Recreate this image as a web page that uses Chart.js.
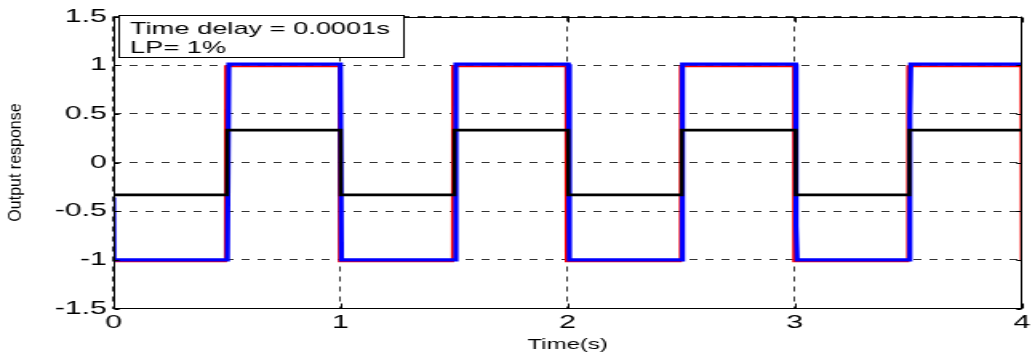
<!DOCTYPE html>
<html>
<head>
<meta charset="utf-8">
<title>Output response</title>
<script src="https://cdn.jsdelivr.net/npm/chart.js@4.4.0/dist/chart.umd.min.js"></script>
<style>
  html, body { margin: 0; padding: 0; background: #fff; overflow: hidden; }
</style>
</head>
<body>
<!-- the figure is drawn on a narrower canvas and widened by CSS, like an exported figure resized to 1035 px -->
<canvas id="plot" width="647" height="358" style="display:block;width:1035px;height:358px"></canvas>
<script>
// Reference square wave (red)
const timeRed = [0, 0.493, 0.494, 0.994, 0.995, 1.493, 1.494, 1.993, 1.994, 2.496, 2.497, 2.995, 2.996, 3.497, 3.498, 3.997, 3.998, 4.0];
const outRed  = [-1.015, -1.015, 0.99, 0.99, -1.015, -1.015, 0.99, 0.99, -1.015, -1.015, 0.99, 0.99, -1.015, -1.015, 0.99, 0.99, -1.015, -1.015];

// Delayed output (blue)
const timeBlue = [0, 0.002, 0.5015, 0.508, 0.999, 1.004, 1.5015, 1.508, 2.003, 2.008, 2.503, 2.504, 2.508, 3.004, 3.006, 3.011, 3.506, 3.507, 3.511, 4.0];
const outBlue  = [-0.36, -1.0, -1.0, 1.01, 1.01, -1.0, -1.0, 1.01, 1.01, -1.0, -1.0, 0.76, 1.01, 1.01, -0.65, -1.0, -1.0, 0.47, 1.01, 1.01];

// Low-level control signal (black)
const timeBlack = [0, 0.5, 0.501, 1.0, 1.001, 1.5, 1.501, 2.002, 2.003, 2.502, 2.503, 3.004, 3.005, 3.504, 3.505, 4.0];
const outBlack  = [-0.333, -0.333, 0.333, 0.333, -0.333, -0.333, 0.333, 0.333, -0.333, -0.333, 0.333, 0.333, -0.333, -0.333, 0.333, 0.333];

// Axis ticks
const xTicks = [0, 1, 2, 3, 4];
const xTickLabels = ['0', '1', '2', '3', '4'];
const yTicks = [-1.5, -1, -0.5, 0, 0.5, 1, 1.5];
const yTickLabels = ['-1.5', '-1', '-0.5', '0', '0.5', '1', '1.5'];

// Axis titles and annotation text
const xTitle = 'Time(s)';
const yTitle = 'Output response';
const noteLines = ['Time delay = 0.0001s', 'LP= 1%'];

const FONT = 'Liberation Sans, Arial, Helvetica, sans-serif';
const STRETCH = 1035 / 647;   // horizontal widening applied by CSS

const toPoints = (ts, vs) => ts.map((t, i) => ({ x: t, y: vs[i] }));

// Box, inward tick marks, vertical axis title and the text annotation
const framePlugin = {
  id: 'frame',
  afterDraw(chart) {
    const { ctx, chartArea: a, scales } = chart;
    const xs = scales.x, ys = scales.y;
    ctx.save();
    ctx.strokeStyle = '#000';
    ctx.lineWidth = 1;
    const L = Math.round(a.left) + 0.5, R = Math.round(a.right) - 0.5;
    const T = Math.round(a.top) + 0.5, B = Math.round(a.bottom) - 0.5;
    ctx.strokeRect(L, T, R - L, B - T);

    const tv = 5, th = 5 / STRETCH;
    ctx.beginPath();
    xTicks.forEach(v => {
      const px = Math.round(xs.getPixelForValue(v)) + 0.5;
      ctx.moveTo(px, B); ctx.lineTo(px, B - tv);
      ctx.moveTo(px, T); ctx.lineTo(px, T + tv);
    });
    yTicks.forEach(v => {
      const py = Math.round(ys.getPixelForValue(v)) + 0.5;
      ctx.moveTo(L, py); ctx.lineTo(L + th, py);
      ctx.moveTo(R, py); ctx.lineTo(R - th, py);
    });
    ctx.stroke();

    // vertical axis title, compressed back so its glyphs keep their proportions
    ctx.save();
    ctx.translate(10.6, (a.top + a.bottom) / 2);
    ctx.scale(1 / STRETCH, 1);
    ctx.rotate(-Math.PI / 2);
    ctx.fillStyle = '#000';
    ctx.font = '16px ' + FONT;
    ctx.textAlign = 'center';
    ctx.textBaseline = 'middle';
    ctx.fillText(yTitle, 0, 0);
    ctx.restore();

    // annotation box in the upper-left corner of the axes
    const bx = a.left + 3.5, by = a.top - 1.5, bw = 178, bh = 42;
    ctx.fillStyle = '#fff';
    ctx.fillRect(bx, by, bw, bh);
    ctx.strokeRect(Math.round(bx) + 0.5, Math.round(by) + 0.5, bw, bh);
    ctx.fillStyle = '#000';
    ctx.font = '17px ' + FONT;
    ctx.textBaseline = 'alphabetic';
    ctx.textAlign = 'left';
    noteLines.forEach((s, i) => ctx.fillText(s, bx + 6.9, by + 19 + i * 19));
    ctx.restore();
  }
};

new Chart(document.getElementById('plot'), {
  type: 'scatter',
  data: {
    datasets: [
      { label: 'control', data: toPoints(timeBlack, outBlack), borderColor: '#000', borderWidth: 2.6, showLine: true, pointRadius: 0, tension: 0 },
      { label: 'output', data: toPoints(timeBlue, outBlue), borderColor: '#0000ff', borderWidth: 3.2, showLine: true, pointRadius: 0, tension: 0 },
      { label: 'reference', data: toPoints(timeRed, outRed), borderColor: '#ff0000', borderWidth: 2, showLine: true, pointRadius: 0, tension: 0 }
    ]
  },
  options: {
    responsive: false,
    devicePixelRatio: 1,
    animation: false,
    events: [],
    layout: { padding: { left: 0, top: 16.5, right: 6.06, bottom: 0 } },
    plugins: { legend: { display: false }, tooltip: { enabled: false } },
    scales: {
      x: {
        type: 'linear',
        min: 0, max: 4,
        afterBuildTicks: s => { s.ticks = xTicks.map(v => ({ value: v })); },
        afterFit: s => { s.height = 49.5; },
        ticks: {
          autoSkip: false, maxRotation: 0, padding: 3,
          color: '#000', font: { family: FONT, size: 19 },
          callback: (v, i) => xTickLabels[i]
        },
        grid: { color: '#333', lineWidth: 1, drawTicks: false },
        border: { display: false, dash: [5, 5] },
        title: { display: true, text: xTitle, color: '#000', font: { family: FONT, size: 15 }, padding: { top: 0, bottom: 4 } }
      },
      y: {
        type: 'linear',
        min: -1.5, max: 1.5,
        afterBuildTicks: s => { s.ticks = yTicks.map(v => ({ value: v })); },
        afterFit: s => { s.width = 70.94; },
        ticks: {
          autoSkip: false, padding: 4,
          color: '#000', font: { family: FONT, size: 19 },
          callback: (v, i) => yTickLabels[i]
        },
        grid: { color: '#333', lineWidth: 1, drawTicks: false },
        border: { display: false, dash: [5, 5] }
      }
    }
  },
  plugins: [framePlugin]
});
</script>
</body>
</html>
